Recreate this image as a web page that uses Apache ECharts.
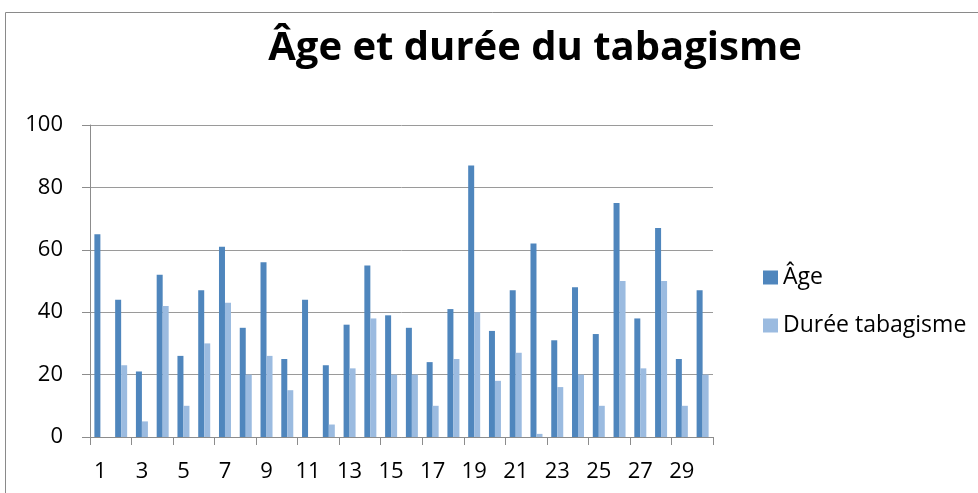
<!DOCTYPE html>
<html>
<head>
<meta charset="utf-8">
<script src="https://cdn.jsdelivr.net/npm/echarts@6/dist/echarts.min.js"></script>
<style>
  html, body { margin: 0; padding: 0; background: #fff; }
</style>
</head>
<body>
<div id="main" style="width: 978px;height:493px;"></div>
<script>
// catégories (numéro du patient)
var categories = ['1','2','3','4','5','6','7','8','9','10','11','12','13','14','15','16','17','18','19','20','21','22','23','24','25','26','27','28','29','30'];
var ageData = [65, 44, 21, 52, 26, 47, 61, 35, 56, 25, 44, 23, 36, 55, 39, 35, 24, 41, 87, 34, 47, 62, 31, 48, 33, 75, 38, 67, 25, 47];
var dureeData = [0, 23, 5, 42, 10, 30, 43, 20, 26, 15, 0, 4, 22, 38, 20, 20, 10, 25, 40, 18, 27, 1, 16, 20, 10, 50, 22, 50, 10, 20];
var seriesNames = ['Âge', 'Durée tabagisme'];

var myChart = echarts.init(document.getElementById('main'));
var font = '"Open Sans", "Liberation Sans", sans-serif';

var option = {
  animation: false,
  color: ['#4F86BD', '#9BBBE0'],
  title: {
    text: 'Âge et durée du tabagisme',
    left: 530,
    textAlign: 'center',
    top: 24,
    textStyle: { fontFamily: font, fontWeight: 'bold', fontSize: 40, color: '#000' }
  },
  graphic: [{
    type: 'rect',
    shape: { x: 5.5, y: 12.5, width: 1000, height: 520 },
    style: { fill: 'none', stroke: '#8a8a8a', lineWidth: 1 }
  }],
  legend: {
    orient: 'vertical',
    left: 758,
    top: 261,
    itemGap: 25,
    itemWidth: 15,
    itemHeight: 14,
    icon: 'rect',
    data: seriesNames,
    textStyle: { fontFamily: font, fontSize: 23, color: '#000' }
  },
  grid: { left: 90, right: 265, top: 125, bottom: 56 },
  xAxis: {
    type: 'category',
    data: categories,
    axisLine: { lineStyle: { color: '#8c8c8c' } },
    axisTick: { show: true, length: 8, lineStyle: { color: '#8c8c8c' } },
    axisLabel: { interval: 1, margin: 24, fontFamily: font, fontSize: 22, color: '#000' }
  },
  yAxis: {
    type: 'value',
    min: 0,
    max: 100,
    interval: 20,
    axisLine: { show: true, lineStyle: { color: '#8c8c8c' } },
    axisTick: { show: true, length: 8, lineStyle: { color: '#8c8c8c' } },
    axisLabel: { margin: 27, fontFamily: font, fontSize: 22, color: '#000' },
    splitLine: { lineStyle: { color: '#9a9a9a' } }
  },
  series: [
    { name: seriesNames[0], type: 'bar', data: ageData, barWidth: 6, barGap: '0%' },
    { name: seriesNames[1], type: 'bar', data: dureeData, barWidth: 6 }
  ]
};
myChart.setOption(option);
</script>
</body>
</html>
